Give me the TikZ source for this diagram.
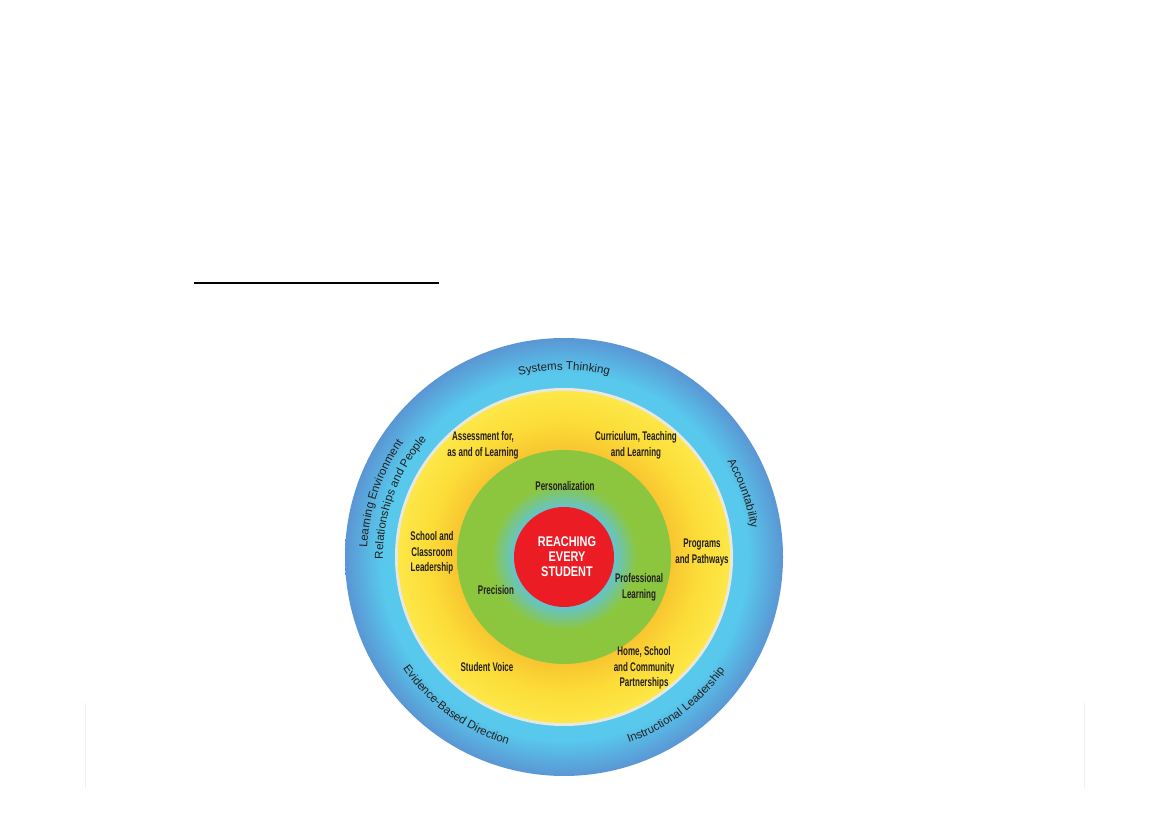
\documentclass[tikz,border=0pt]{standalone}
\usepackage{fontspec}
\usetikzlibrary{calc,decorations.text}
\newfontfamily\ringface{Liberation Sans}
\newfontfamily\condface[FakeStretch=0.64]{Liberation Sans}
\newfontfamily\capsface[FakeStretch=0.78]{Liberation Sans}
\definecolor{inktext}{RGB}{35,31,32}
\definecolor{ringcyan}{RGB}{88,200,236}
\definecolor{ringblue}{RGB}{90,150,212}
\definecolor{ringedge}{RGB}{232,232,222}
\definecolor{sunorange}{RGB}{248,197,48}
\definecolor{sunmid}{RGB}{252,221,56}
\definecolor{sunyellow}{RGB}{253,231,72}
\definecolor{leafgreen}{RGB}{140,198,63}
\definecolor{leafteal}{RGB}{100,196,205}
\definecolor{corered}{RGB}{236,28,36}
\pgfdeclareradialshading{bluering}{\pgfpoint{0bp}{0bp}}{color(0bp)=(ringcyan); color(21bp)=(ringcyan); color(25bp)=(ringblue); color(50bp)=(ringblue)}
\pgfdeclareradialshading{sunring}{\pgfpoint{0bp}{0bp}}{color(0bp)=(sunorange); color(16bp)=(sunorange); color(20.5bp)=(sunmid); color(25bp)=(sunyellow); color(50bp)=(sunyellow)}
\pgfdeclareradialshading{leafring}{\pgfpoint{0bp}{0bp}}{color(0bp)=(leafteal); color(11.7bp)=(leafteal); color(17bp)=(leafgreen); color(25bp)=(leafgreen); color(50bp)=(leafgreen)}
\newcommand{\ringlabel}[4]{\path[decorate, decoration={text along path, text color=inktext, text align=center, text={|\ringface\fontsize{11.5}{14}\selectfont|#4}}] ($(hub)+(#2:#1)$) arc[start angle=#2, end angle=#3, radius=#1];}
\tikzset{ringtag/.style={text=inktext, align=center, inner sep=0pt, font=\condface\bfseries\fontsize{12.5}{15.5}\selectfont},
  coretag/.style={text=white, align=center, inner sep=0pt, font=\capsface\bfseries\fontsize{14}{15}\selectfont}}

\begin{document}
\begin{tikzpicture}[x=1pt, y=1pt]
\useasboundingbox (0,0) rectangle (1169,827);
\draw[line width=2.5pt] (194,544) -- (439,544);
\draw[gray!12, line width=0.8pt] (85,124) -- (85,38);
\draw[gray!12, line width=0.8pt] (1084,124) -- (1084,38);
\coordinate (hub) at (564,270);
\shade[shading=bluering] (hub) circle[radius=219];
\fill[ringedge] (hub) circle[radius=169];
\shade[shading=sunring] (hub) circle[radius=166];
\shade[shading=leafring] (hub) circle[radius=107];
\fill[corered] (hub) circle[radius=50];
\node[coretag] (reach) at (567,270) {REACHING\\EVERY\\STUDENT};
\node[ringtag] (person) at (565,341) {Personalization};
\node[ringtag] (precis) at (496,237) {Precision};
\node[ringtag] (profess) at (639,239.5) {Professional\\Learning};
\node[ringtag] (assess) at (483,381.5) {Assessment for,\\as and of Learning};
\node[ringtag] (curric) at (636,381.5) {Curriculum, Teaching\\and Learning};
\node[ringtag] (school) at (432,274) {School and\\Classroom\\Leadership};
\node[ringtag] (programs) at (702,274.5) {Programs\\and Pathways};
\node[ringtag] (home) at (644,159) {Home, School\\and Community\\Partnerships};
\node[ringtag] (voice) at (487,160) {Student Voice};
\ringlabel{187}{150}{30}{Systems Thinking}
\ringlabel{189}{60}{-21}{Accountability}
\ringlabel{197}{211}{111}{Learning Environment}
\ringlabel{181}{210}{110}{Relationships and People}
\ringlabel{196}{184}{284}{Evidence-Based Direction}
\ringlabel{197}{257}{357}{Instructional Leadership}
\end{tikzpicture}
\end{document}
